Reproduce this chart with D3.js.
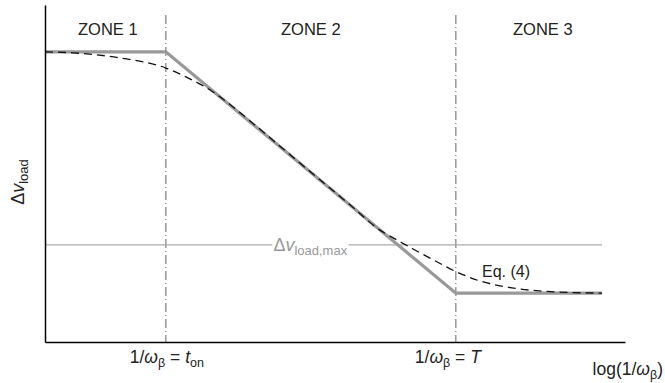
<!DOCTYPE html>
<html>
<head>
<meta charset="utf-8">
<script src="https://cdn.jsdelivr.net/npm/d3@7"></script>
<style>
  body { margin: 0; background: #fff; }
  text { font-family: "Liberation Sans", Arial, sans-serif; fill: #222; }
</style>
</head>
<body>
<div id="chart"></div>
<script>
// log(1/w_beta) positions of the zone boundaries
let breakpoints = [1.0, 3.4];
let zoneNames = ["ZONE 1", "ZONE 2", "ZONE 3"];
let zoneCenters = [0.52, 2.2, 4.12];

// asymptotic (gray) curve
let asymX = [0, 1.0, 3.4, 4.61];
let asymY = [8.61, 8.61, 1.45, 1.45];

// Eq. (4) dashed curve
let eqX = [0, 0.23, 0.62, 1.0, 1.175, 1.366, 1.531, 1.697, 2.11, 2.524, 2.772, 2.897, 3.046, 3.186, 3.401, 3.6, 3.824, 4.155, 4.61];
let eqY = [8.61, 8.58, 8.43, 8.13, 7.85, 7.48, 7.05, 6.56, 5.31, 4.07, 3.32, 3.06, 2.76, 2.49, 2.09, 1.81, 1.63, 1.5, 1.45];

let vMax = 2.88;

let W = 665, H = 383;
let svg = d3.select("#chart").append("svg")
    .attr("width", W).attr("height", H);

let xScale = d3.scaleLinear().domain([0, 4.8]).range([45, 625]);
let yScale = d3.scaleLinear().domain([0, 10]).range([342, 5]);

// vertical zone boundaries
svg.selectAll(".zoneLine")
    .data(breakpoints)
    .enter().append("line")
    .attr("x1", d => xScale(d)).attr("x2", d => xScale(d))
    .attr("y1", 15).attr("y2", yScale(0))
    .style("stroke", "#888")
    .style("stroke-width", 1.3)
    .style("stroke-dasharray", "9,3,1,3");

// zone labels
svg.selectAll(".zoneLabel")
    .data(zoneNames)
    .enter().append("text")
    .attr("x", (d, i) => xScale(zoneCenters[i]))
    .attr("y", 35)
    .attr("text-anchor", "middle")
    .style("font-size", "16.5px")
    .text(d => d);

// max line
svg.append("line")
    .attr("x1", xScale(0)).attr("x2", xScale(4.61))
    .attr("y1", yScale(vMax)).attr("y2", yScale(vMax))
    .style("stroke", "#aaa")
    .style("stroke-width", 1.3);

// label for max line, with white box breaking the line
let maxLbl = svg.append("text")
    .attr("x", xScale(1.89))
    .attr("y", yScale(vMax) + 6)
    .style("font-size", "18px");
maxLbl.append("tspan").text("Δ").style("fill", "#999");
maxLbl.append("tspan").text("v").style("font-style", "italic").style("fill", "#999");
maxLbl.append("tspan").text("load,max").attr("dy", 4).style("font-size", "13px").style("fill", "#999");
let bb = maxLbl.node().getBBox();
svg.insert("rect", "text:last-of-type")
    .attr("x", bb.x - 1).attr("y", yScale(vMax) - 2)
    .attr("width", bb.width + 2).attr("height", 4)
    .style("fill", "#fff");

let line = d3.line().x(d => xScale(d[0])).y(d => yScale(d[1]));

// asymptotes
svg.append("path")
    .datum(d3.zip(asymX, asymY))
    .attr("d", line)
    .style("fill", "none")
    .style("stroke", "#999")
    .style("stroke-width", 3.2);

// Eq. (4)
svg.append("path")
    .datum(d3.zip(eqX, eqY))
    .attr("d", line.curve(d3.curveMonotoneX))
    .style("fill", "none")
    .style("stroke", "#111")
    .style("stroke-width", 1.3)
    .style("stroke-dasharray", "8,5");

svg.append("text")
    .attr("x", 482).attr("y", 277)
    .style("font-size", "16px")
    .text("Eq. (4)");

// axes
svg.append("g")
    .attr("transform", "translate(0," + yScale(0) + ")")
    .call(d3.axisBottom(xScale).tickValues([]).tickSizeOuter(0))
    .select(".domain").style("stroke", "#000").style("stroke-width", 1.5);
svg.append("g")
    .attr("transform", "translate(" + xScale(0) + ",0)")
    .call(d3.axisLeft(yScale).tickValues([]).tickSizeOuter(0))
    .select(".domain").style("stroke", "#000").style("stroke-width", 1.5);

// x tick labels
function omegaLabel(x, anchor, tail) {
    let t = svg.append("text")
        .attr("x", x).attr("y", 363)
        .attr("text-anchor", anchor)
        .style("font-size", "17.5px");
    t.append("tspan").text("1/");
    t.append("tspan").text("ω").style("font-style", "italic");
    t.append("tspan").text("β").attr("dy", 4).style("font-size", "12.5px");
    tail(t);
    return t;
}
omegaLabel(xScale(breakpoints[0]) + 1, "middle", t => {
    t.append("tspan").text(" = ").attr("dy", -4);
    t.append("tspan").text("t").style("font-style", "italic");
    t.append("tspan").text("on").attr("dy", 4).style("font-size", "12.5px");
});
omegaLabel(xScale(breakpoints[1]) - 8, "middle", t => {
    t.append("tspan").text(" = ").attr("dy", -4);
    t.append("tspan").text("T").style("font-style", "italic");
});

// x axis title
let xt = svg.append("text")
    .attr("x", 663).attr("y", 375)
    .attr("text-anchor", "end")
    .style("font-size", "17.5px");
xt.append("tspan").text("log(1/");
xt.append("tspan").text("ω").style("font-style", "italic");
xt.append("tspan").text("β").attr("dy", 4).style("font-size", "12.5px");
xt.append("tspan").text(")").attr("dy", -4);

// y axis title
let yt = svg.append("text")
    .attr("transform", "translate(24,182) rotate(-90)")
    .attr("text-anchor", "middle")
    .style("font-size", "18px");
yt.append("tspan").text("Δ");
yt.append("tspan").text("v").style("font-style", "italic");
yt.append("tspan").text("load").attr("dy", 4).style("font-size", "13px");
</script>
</body>
</html>
